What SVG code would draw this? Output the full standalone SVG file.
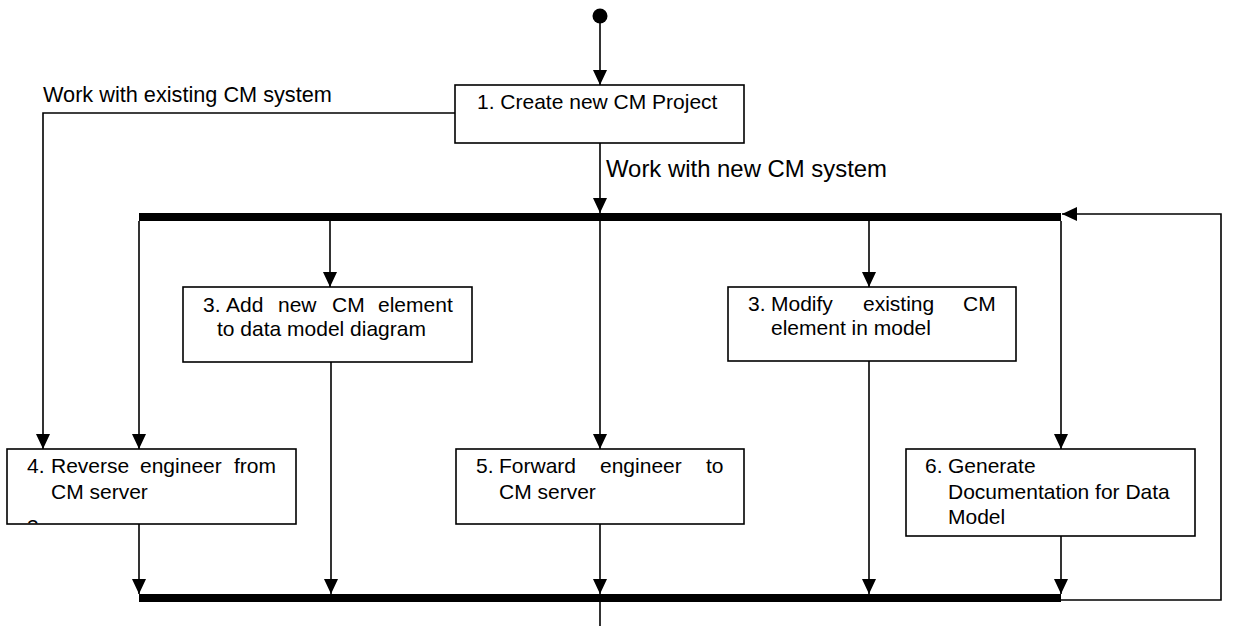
<svg xmlns="http://www.w3.org/2000/svg" width="1233" height="626" viewBox="0 0 1233 626">
<style>
.box{fill:#fff;stroke:#000;stroke-width:1.6}
.t{font-family:"Liberation Sans",Arial,sans-serif;font-size:21px;fill:#000}
.lbl{font-family:"Liberation Sans",Arial,sans-serif;fill:#000}
.c{fill:none;stroke:#000;stroke-width:1.6}
.bar{fill:#000}
</style>
<defs>
<marker id="ah" markerUnits="userSpaceOnUse" markerWidth="15" markerHeight="14" refX="15" refY="7" orient="auto">
<path d="M0,0 L15,7 L0,14 z" fill="#000"/>
</marker>
<clipPath id="clip4"><rect x="8" y="450" width="287" height="73.5"/></clipPath>
</defs>

<g id="start">
<circle cx="600" cy="16" r="7.5" fill="#000"/>
</g>

<g id="connectors">
<path class="c" d="M600,23 V85" marker-end="url(#ah)"/>
<path class="c" d="M455,113 H43 V449" marker-end="url(#ah)"/>
<path class="c" d="M600,143 V213" marker-end="url(#ah)"/>
<path class="c" d="M139,221 V449" marker-end="url(#ah)"/>
<path class="c" d="M330,221 V287" marker-end="url(#ah)"/>
<path class="c" d="M600,221 V449" marker-end="url(#ah)"/>
<path class="c" d="M869,221 V287" marker-end="url(#ah)"/>
<path class="c" d="M1061,221 V449" marker-end="url(#ah)"/>
<path class="c" d="M139,524 V594" marker-end="url(#ah)"/>
<path class="c" d="M331,362 V594" marker-end="url(#ah)"/>
<path class="c" d="M600,524 V594" marker-end="url(#ah)"/>
<path class="c" d="M869,361 V594" marker-end="url(#ah)"/>
<path class="c" d="M1061,536 V594" marker-end="url(#ah)"/>
<path class="c" d="M600,602 V626"/>
<path class="c" d="M1061,600 H1221 V214 H1062" marker-end="url(#ah)"/>
<text class="lbl" x="43" y="102" font-size="21.7">Work with existing CM system</text>
<text class="lbl" x="606" y="177" font-size="23.9">Work with new CM system</text>
</g>

<g id="fork">
<rect class="bar" x="139" y="213" width="922" height="8"/>
</g>
<g id="join">
<rect class="bar" x="139" y="594" width="922" height="8"/>
</g>

<g id="n1">
<rect class="box" x="455" y="85" width="289" height="58"/>
<text class="t" x="477" y="109">1. Create new CM Project</text>
</g>

<g id="n3a">
<rect class="box" x="183" y="287" width="289" height="75"/>
<text class="t" y="312"><tspan x="203">3.</tspan><tspan x="226">Add</tspan><tspan x="278">new</tspan><tspan x="332">CM</tspan><tspan x="378">element</tspan></text>
<text class="t" x="217" y="336">to data model diagram</text>
</g>

<g id="n3b">
<rect class="box" x="728" y="287" width="288" height="74"/>
<text class="t" y="311"><tspan x="748">3.</tspan><tspan x="771">Modify</tspan><tspan x="863">existing</tspan><tspan x="963">CM</tspan></text>
<text class="t" x="771" y="335">element in model</text>
</g>

<g id="n4">
<rect class="box" x="7" y="449" width="289" height="75"/>
<text class="t" y="473"><tspan x="27">4.</tspan><tspan x="51">Reverse</tspan><tspan x="140">engineer</tspan><tspan x="234">from</tspan></text>
<text class="t" x="51" y="499">CM server</text>
<text class="t" x="27" y="534" clip-path="url(#clip4)">3</text>
</g>

<g id="n5">
<rect class="box" x="456" y="449" width="288" height="75"/>
<text class="t" y="473"><tspan x="476">5.</tspan><tspan x="499">Forward</tspan><tspan x="600">engineer</tspan><tspan x="706">to</tspan></text>
<text class="t" x="499" y="499">CM server</text>
</g>

<g id="n6">
<rect class="box" x="906" y="449" width="289" height="87"/>
<text class="t" y="473"><tspan x="925">6.</tspan><tspan x="948">Generate</tspan></text>
<text class="t" x="948" y="499">Documentation for Data</text>
<text class="t" x="948" y="524">Model</text>
</g>
</svg>
